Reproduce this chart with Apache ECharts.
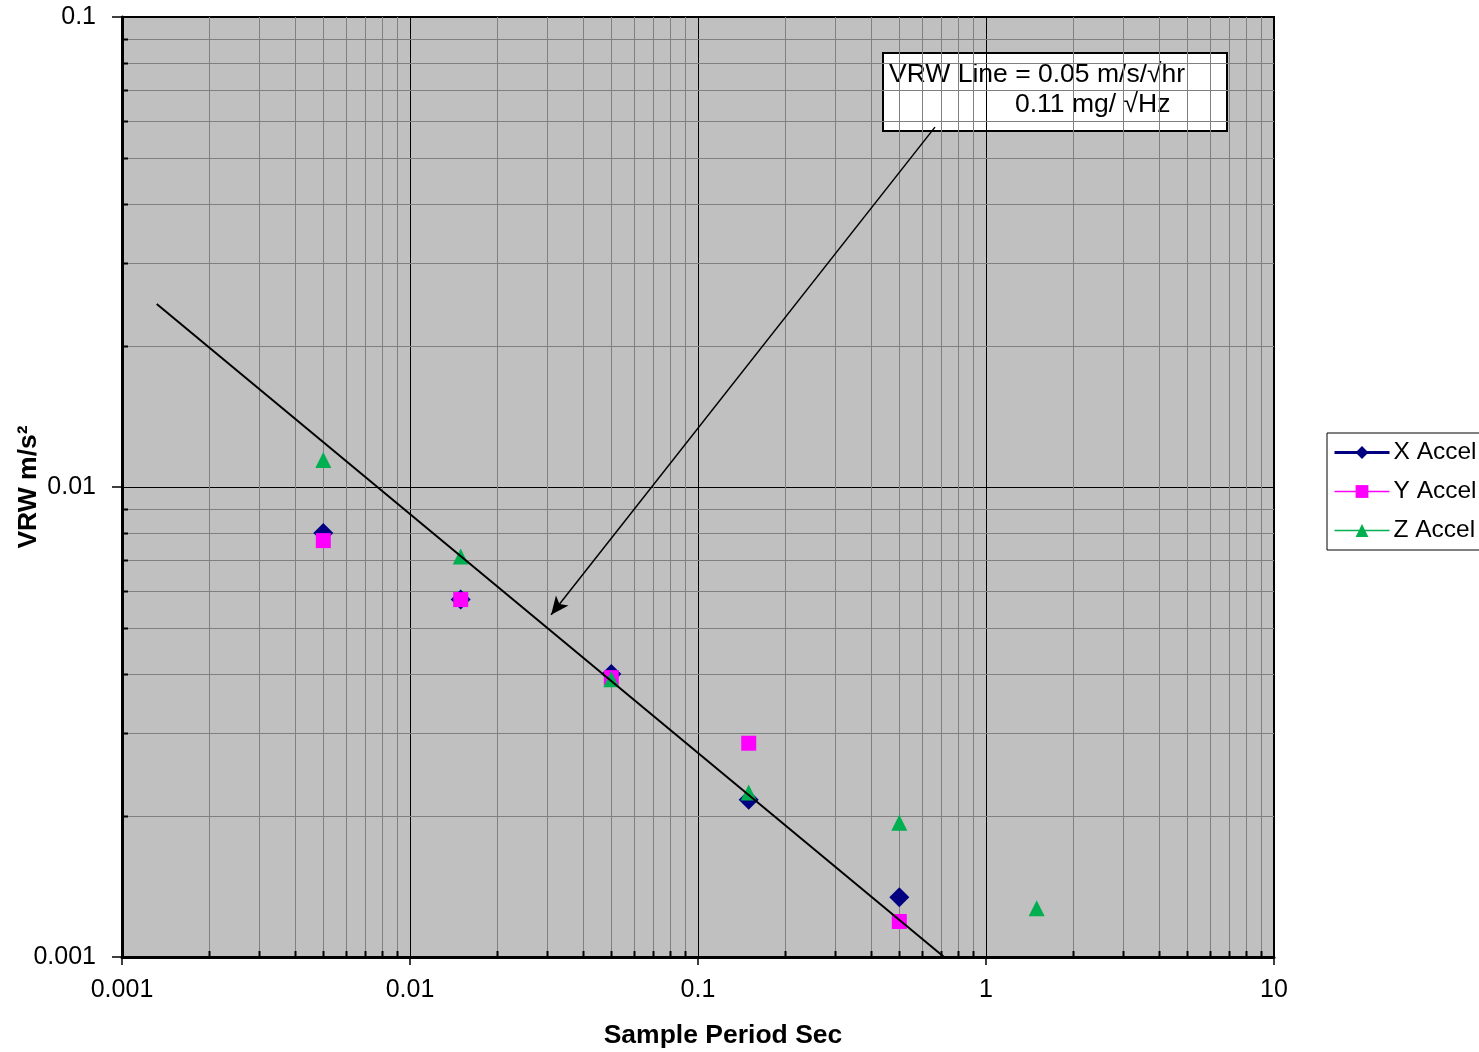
<!DOCTYPE html>
<html><head><meta charset="utf-8">
<script src="https://cdn.jsdelivr.net/npm/echarts@6/dist/echarts.min.js"></script>
<style>html,body{margin:0;padding:0;background:#fff}#c{width:1479px;height:1052px}</style>
</head><body><div id="c"></div>
<script>
// ---- data ----
const periods  = [0.005, 0.015, 0.05, 0.15, 0.5];
const xAccel   = [0.00798, 0.00576, 0.0040, 0.00216, 0.00134];
const yAccel   = [0.00769, 0.00576, 0.00393, 0.00285, 0.00119];
const zPeriods = [0.005, 0.015, 0.05, 0.15, 0.5, 1.5];
const zAccel   = [0.01141, 0.00711, 0.0039, 0.00224, 0.00193, 0.00127];
const vrwLineX = [0.00132, 0.715];
const vrwLineY = [0.0245, 0.001];
const arrowFrom = [0.665, 0.0583];
const arrowTo   = [0.0309, 0.00535];
const xTicks = [0.001, 0.01, 0.1, 1, 10];
const xTickLabels = ['0.001', '0.01', '0.1', '1', '10'];
const yTicks = [0.001, 0.01, 0.1];
const yTickLabels = ['0.001', '0.01', '0.1'];
const seriesNames = ['X Accel', 'Y Accel', 'Z Accel'];
const annotationLines = ['VRW Line = 0.05 m/s/\u221Ahr', '0.11 mg/ \u221AHz'];

const FONT = '"Liberation Sans", Arial, Helvetica, sans-serif';

function lab(ticks, labels) {
  return v => {
    const i = ticks.findIndex(t => Math.abs(Math.log10(t) - Math.log10(v)) < 1e-6);
    return i >= 0 ? labels[i] : '';
  };
}

// minor grid values (2..9 within each decade)
const minorData = [];
for (let i = 0; i < xTicks.length - 1; i++) for (let m = 2; m <= 9; m++) minorData.push([m * xTicks[i], 0.01, 0]);
for (let i = 0; i < yTicks.length - 1; i++) for (let m = 2; m <= 9; m++) minorData.push([0.01, m * yTicks[i], 1]);

const chart = echarts.init(document.getElementById('c'), null, {renderer: 'canvas'});
chart.setOption({
  animation: false,
  backgroundColor: '#fff',
  grid: {left: 122, right: 205, top: 17, bottom: 95, containLabel: false, outerBoundsMode: 'none',
         show: true, backgroundColor: '#C0C0C0', borderColor: '#000', borderWidth: 2},
  xAxis: {
    type: 'log', logBase: 10, min: 0.001, max: 10,
    name: 'Sample Period Sec', nameLocation: 'middle', nameGap: 65, nameMoveOverlap: false,
    nameTextStyle: {fontFamily: FONT, fontSize: 26.5, fontWeight: 'bold', color: '#000', padding: [0, 0, 0, 50]},
    axisLine: {show: true, lineStyle: {color: '#000', width: 3}},
    axisTick: {show: true, inside: false, length: 8, lineStyle: {color: '#000', width: 1.5}},
    axisLabel: {formatter: lab(xTicks, xTickLabels), margin: 21, fontFamily: FONT, fontSize: 25, color: '#000', showMinLabel: true, showMaxLabel: true},
    splitLine: {show: true, lineStyle: {color: '#000', width: 1}}
  },
  yAxis: {
    type: 'log', logBase: 10, min: 0.001, max: 0.1,
    name: 'VRW m/s\u00B2', nameLocation: 'middle', nameGap: 80, nameRotate: 90, nameMoveOverlap: false,
    nameTextStyle: {fontFamily: FONT, fontSize: 26.5, fontWeight: 'bold', color: '#000'},
    axisLine: {show: true, lineStyle: {color: '#000', width: 3}},
    axisTick: {show: true, inside: false, length: 10, lineStyle: {color: '#000', width: 1.5}},
    axisLabel: {formatter: lab(yTicks, yTickLabels), margin: 26, fontFamily: FONT, fontSize: 25, color: '#000', showMinLabel: true, showMaxLabel: true},
    splitLine: {show: true, lineStyle: {color: '#000', width: 1}}
  },
  legend: {
    data: [
      {name: seriesNames[0], lineStyle: {width: 3, opacity: 1}},
      {name: seriesNames[1], lineStyle: {width: 1.5, opacity: 1}},
      {name: seriesNames[2], lineStyle: {width: 1.5, opacity: 1}}
    ],
    orient: 'vertical', left: 1327, top: 433,
    itemWidth: 55, itemHeight: 16, itemGap: 14,
    backgroundColor: '#fff', borderColor: '#000', borderWidth: 1, borderRadius: 0,
    padding: [7, 6, 7, 6],
    textStyle: {fontFamily: FONT, fontSize: 24.5, color: '#000', padding: [0, 0, 0, -1]},
    lineStyle: {opacity: 1}
  },
  graphic: [{
    type: 'group', left: 882, top: 52, z: 100,
    children: [
      {type: 'rect', shape: {x: 0, y: 0, width: 344, height: 78}, style: {fill: '#fff', stroke: '#000', lineWidth: 2}},
      {type: 'text', x: 6, y: 22, style: {text: annotationLines[0], font: '26.5px ' + FONT, fill: '#000', textVerticalAlign: 'middle'}},
      {type: 'text', x: 132, y: 52, style: {text: annotationLines[1], font: '26.5px ' + FONT, fill: '#000', textVerticalAlign: 'middle'}}
    ]
  }],
  series: [
    {
      type: 'custom', name: 'minor', silent: true, z: 1,
      encode: {x: 0, y: 1},
      data: minorData,
      renderItem: (params, api) => {
        const cs = params.coordSys;
        if (api.value(2) === 0) {
          const x = Math.round(api.coord([api.value(0), 0.01])[0]) + 0.5;
          const yb = cs.y + cs.height;
          return {type: 'group', children: [
            {type: 'line', shape: {x1: x, y1: cs.y, x2: x, y2: yb}, style: {stroke: '#808080', lineWidth: 1}},
            {type: 'line', shape: {x1: x, y1: yb, x2: x, y2: yb - 6}, style: {stroke: '#000', lineWidth: 2}}
          ]};
        } else {
          const y = Math.round(api.coord([0.01, api.value(1)])[1]) + 0.5;
          return {type: 'group', children: [
            {type: 'line', shape: {x1: cs.x, y1: y, x2: cs.x + cs.width, y2: y}, style: {stroke: '#808080', lineWidth: 1}},
            {type: 'line', shape: {x1: cs.x, y1: y, x2: cs.x + 6, y2: y}, style: {stroke: '#000', lineWidth: 2}}
          ]};
        }
      }
    },
    {
      type: 'line', name: seriesNames[0], z: 3,
      data: periods.map((p, i) => [p, xAccel[i]]),
      symbol: 'diamond', symbolSize: 20, showSymbol: true,
      itemStyle: {color: '#000080'},
      lineStyle: {width: 3, opacity: 0, color: '#000080'}
    },
    {
      type: 'line', name: seriesNames[1], z: 4,
      data: periods.map((p, i) => [p, yAccel[i]]),
      symbol: 'rect', symbolSize: 15, showSymbol: true,
      itemStyle: {color: '#FF00FF'},
      lineStyle: {width: 1.5, opacity: 0, color: '#FF00FF'}
    },
    {
      type: 'line', name: seriesNames[2], z: 5,
      data: zPeriods.map((p, i) => [p, zAccel[i]]),
      symbol: 'triangle', symbolSize: 16, showSymbol: true,
      itemStyle: {color: '#00B050'},
      lineStyle: {width: 1.5, opacity: 0, color: '#00B050'}
    },
    {
      type: 'line', name: 'VRW', z: 6, silent: true,
      data: vrwLineX.map((x, i) => [x, vrwLineY[i]]),
      symbol: 'none',
      lineStyle: {color: '#000', width: 2},
      markLine: {
        silent: true, symbolSize: [12, 18],
        lineStyle: {color: '#000', width: 1.5, type: 'solid'},
        label: {show: false},
        data: [[{coord: arrowFrom, symbol: 'none'}, {coord: arrowTo, symbol: 'arrow'}]]
      }
    }
  ]
});
</script>
</body></html>
